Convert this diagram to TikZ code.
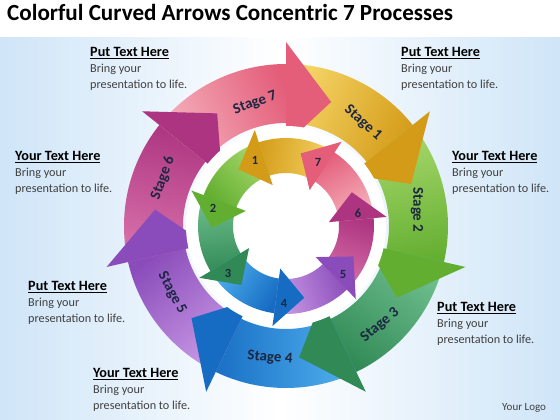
\documentclass[tikz,border=0pt]{standalone}
\usepackage{fontspec}
\setmainfont{Carlito}
\usepackage{tikz}
\usetikzlibrary{shapes}

\definecolor{bgblue}{HTML}{CFE5F8}
\definecolor{stagetxt}{HTML}{1C2742}
\definecolor{bodytxt}{HTML}{404040}
\definecolor{goldA}{HTML}{F5D466}
\definecolor{goldB}{HTML}{D49B18}
\definecolor{lgreenA}{HTML}{A8D86C}
\definecolor{lgreenB}{HTML}{62AE30}
\definecolor{dgreenA}{HTML}{70C08E}
\definecolor{dgreenB}{HTML}{318A56}
\definecolor{blueA}{HTML}{52B2F0}
\definecolor{blueB}{HTML}{166CC2}
\definecolor{purpleA}{HTML}{C99AE6}
\definecolor{purpleB}{HTML}{8A4CBA}
\definecolor{magentaA}{HTML}{D872AA}
\definecolor{magentaB}{HTML}{AC3480}
\definecolor{pinkA}{HTML}{F5B2BE}
\definecolor{pinkB}{HTML}{E45E7A}

\newcommand{\blockhead}[1]{\textcolor{black}{\fontsize{14.2}{16}\selectfont\underline{\textbf{#1}}}}

\begin{document}
\begin{tikzpicture}[x=1pt,y=1pt]
\tikzstyle{textblock}=[anchor=north west,inner sep=0pt,align=left,text=bodytxt,font=\fontsize{12.2}{16}\selectfont]
\tikzstyle{stagelabel}=[inner sep=0pt,text=stagetxt,font=\fontsize{15}{15}\selectfont\bfseries]
\tikzstyle{numlabel}=[inner sep=0pt,text=stagetxt,font=\fontsize{12.5}{12.5}\selectfont\bfseries]

\useasboundingbox (0,0) rectangle (560,420);
\fill[white] (0,0) rectangle (560,420);
\shade[left color=bgblue,right color=bgblue,middle color=white] (0,0) rectangle (560,382);

\node[anchor=base west,inner sep=0pt,font=\fontsize{23.1}{23.1}\selectfont\bfseries] (title) at (7,399) {Colorful Curved Arrows Concentric 7 Processes};

% outer ring, clockwise
\begin{scope}[shift={(286,194)}]
    \shade[top color=goldB,bottom color=goldA,shading angle=-115.71] (90:162) arc[start angle=90,end angle=35.57,radius=162] -- (35.57:103) arc[start angle=35.57,end angle=90,radius=103] -- cycle;
    \shade[top color=lgreenB,bottom color=lgreenA,shading angle=-167.14] (38.57:162) arc[start angle=38.57,end angle=-15.86,radius=162] -- (-15.86:103) arc[start angle=-15.86,end angle=38.57,radius=103] -- cycle;
    \shade[top color=dgreenB,bottom color=dgreenA,shading angle=-218.57] (-12.86:162) arc[start angle=-12.86,end angle=-67.29,radius=162] -- (-67.29:103) arc[start angle=-67.29,end angle=-12.86,radius=103] -- cycle;
    \shade[top color=blueB,bottom color=blueA,shading angle=-270] (-64.29:162) arc[start angle=-64.29,end angle=-118.71,radius=162] -- (-118.71:103) arc[start angle=-118.71,end angle=-64.29,radius=103] -- cycle;
    \shade[top color=purpleB,bottom color=purpleA,shading angle=-321.43] (-115.71:162) arc[start angle=-115.71,end angle=-170.14,radius=162] -- (-170.14:103) arc[start angle=-170.14,end angle=-115.71,radius=103] -- cycle;
    \shade[top color=magentaB,bottom color=magentaA,shading angle=-372.86] (-167.14:162) arc[start angle=-167.14,end angle=-221.57,radius=162] -- (-221.57:103) arc[start angle=-221.57,end angle=-167.14,radius=103] -- cycle;
    \shade[top color=pinkB,bottom color=pinkA,shading angle=-424.29] (-218.57:162) arc[start angle=-218.57,end angle=-273,radius=162] -- (-273:103) arc[start angle=-273,end angle=-218.57,radius=103] -- cycle;
    % heads
    \fill[goldB] (38.57:184) -- (18.57:132) -- (38.57:82) -- cycle;
    \fill[lgreenB] (-12.86:184) -- (-32.86:132) -- (-12.86:82) -- cycle;
    \fill[dgreenB] (-64.29:184) -- (-84.29:132) -- (-64.29:82) -- cycle;
    \fill[blueB] (-115.71:184) -- (-135.71:132) -- (-115.71:82) -- cycle;
    \fill[purpleB] (-167.14:184) -- (-187.14:132) -- (-167.14:82) -- cycle;
    \fill[magentaB] (-218.57:184) -- (-238.57:132) -- (-218.57:82) -- cycle;
    \fill[pinkB] (-270:184) -- (-290:132) -- (-270:82) -- cycle;

    \fill[white] (0,0) circle (100);

% inner ring, counter clockwise
    \shade[top color=goldB,bottom color=goldA,shading angle=82.29] (56.57:88) arc[start angle=56.57,end angle=111,radius=88] -- (111:53) arc[start angle=111,end angle=56.57,radius=53] -- cycle;
    \shade[top color=lgreenB,bottom color=lgreenA,shading angle=133.71] (108:88) arc[start angle=108,end angle=162.43,radius=88] -- (162.43:53) arc[start angle=162.43,end angle=108,radius=53] -- cycle;
    \shade[top color=dgreenB,bottom color=dgreenA,shading angle=185.14] (159.43:88) arc[start angle=159.43,end angle=213.86,radius=88] -- (213.86:53) arc[start angle=213.86,end angle=159.43,radius=53] -- cycle;
    \shade[top color=blueB,bottom color=blueA,shading angle=236.57] (210.86:88) arc[start angle=210.86,end angle=265.29,radius=88] -- (265.29:53) arc[start angle=265.29,end angle=210.86,radius=53] -- cycle;
    \shade[top color=purpleB,bottom color=purpleA,shading angle=288] (262.29:88) arc[start angle=262.29,end angle=316.71,radius=88] -- (316.71:53) arc[start angle=316.71,end angle=262.29,radius=53] -- cycle;
    \shade[top color=magentaB,bottom color=magentaA,shading angle=339.43] (313.71:88) arc[start angle=313.71,end angle=368.14,radius=88] -- (368.14:53) arc[start angle=368.14,end angle=313.71,radius=53] -- cycle;
    \shade[top color=pinkB,bottom color=pinkA,shading angle=390.86] (365.14:88) arc[start angle=365.14,end angle=419.57,radius=88] -- (419.57:53) arc[start angle=419.57,end angle=365.14,radius=53] -- cycle;
    % heads
    \fill[goldB] (108:101) -- (130:74) -- (108:43) -- cycle;
    \fill[lgreenB] (159.43:101) -- (181.43:74) -- (159.43:43) -- cycle;
    \fill[dgreenB] (210.86:101) -- (232.86:74) -- (210.86:43) -- cycle;
    \fill[blueB] (262.29:101) -- (284.29:74) -- (262.29:43) -- cycle;
    \fill[purpleB] (313.71:101) -- (335.71:74) -- (313.71:43) -- cycle;
    \fill[magentaB] (365.14:101) -- (387.14:74) -- (365.14:43) -- cycle;
    \fill[pinkB] (416.57:101) -- (438.57:74) -- (416.57:43) -- cycle;
\end{scope}

\node[stagelabel,rotate=-42] (stage1) at (363,297) {Stage 1};
\node[stagelabel,rotate=-90] (stage2) at (417,210) {Stage 2};
\node[stagelabel,rotate=40] (stage3) at (380,95) {Stage 3};
\node[stagelabel,rotate=-5] (stage4) at (270,62) {Stage 4};
\node[stagelabel,rotate=-62] (stage5) at (172,127) {Stage 5};
\node[stagelabel,rotate=70] (stage6) at (163,242) {Stage 6};
\node[stagelabel,rotate=20] (stage7) at (255,317) {Stage 7};

\node[numlabel] (num1) at (255,260) {1};
\node[numlabel] (num2) at (213,212) {2};
\node[numlabel] (num3) at (228,147) {3};
\node[numlabel] (num4) at (284,117) {4};
\node[numlabel] (num5) at (343,146) {5};
\node[numlabel] (num6) at (358,207) {6};
\node[numlabel] (num7) at (318,258) {7};

\node[textblock] (txt1) at (90,373) {\blockhead{Put Text Here}\\Bring your\\presentation to life.};
\node[textblock] (txt2) at (401,373) {\blockhead{Put Text Here}\\Bring your\\presentation to life.};
\node[textblock] (txt3) at (15,269) {\blockhead{Your Text Here}\\Bring your\\presentation to life.};
\node[textblock] (txt4) at (452,269) {\blockhead{Your Text Here}\\Bring your\\presentation to life.};
\node[textblock] (txt5) at (28,139) {\blockhead{Put Text Here}\\Bring your\\presentation to life.};
\node[textblock] (txt6) at (437,118) {\blockhead{Put Text Here}\\Bring your\\presentation to life.};
\node[textblock] (txt7) at (93,52) {\blockhead{Your Text Here}\\Bring your\\presentation to life.};
\node[anchor=west,inner sep=0pt,text=bodytxt,font=\fontsize{11}{11}\selectfont] (logo) at (502,12) {Your Logo};
\end{tikzpicture}
\end{document}
